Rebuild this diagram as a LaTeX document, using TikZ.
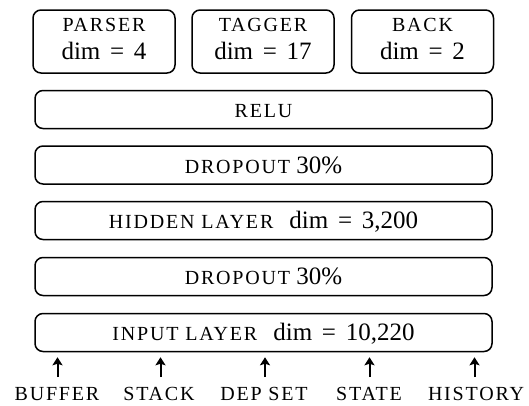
\documentclass[tikz,border=0pt]{standalone}
\usepackage{fontspec}
\setmainfont{Liberation Serif}
\newfontfamily\capsfont[LetterSpace=9]{Liberation Serif}
\usetikzlibrary{arrows.meta}
\newcommand{\mainsz}{\fontsize{25}{30}\selectfont}
\newcommand{\sck}[1]{{\capsfont\fontsize{20}{24}\selectfont #1}}
\newcommand{\dimeq}[1]{dim\hspace{0.39em}=\hspace{0.39em}#1}
\begin{document}
\begin{tikzpicture}[x=1pt,y=-1pt,
  box/.style={draw, line width=1.5pt, rounded corners=8pt, inner sep=0pt, font=\mainsz},
  layer/.style={box, minimum width=457pt, minimum height=38pt, text height=16pt, text depth=0pt},
  headbox/.style={box, minimum width=142pt, minimum height=63pt},
  ttl/.style={anchor=base, inner sep=0pt, font=\mainsz},
  inlabel/.style={anchor=base, inner sep=0pt, font=\mainsz},
  feed/.style={-{Stealth[length=8pt,width=10pt,inset=1.5pt]}, line width=2pt, shorten >=5pt}
]
\useasboundingbox (0,0) rectangle (529,405);
% heads
\node[headbox] (parser) at (104,41.5) {};
\node[headbox] (tagger) at (263,41.5) {};
\node[headbox] (back) at (422.5,41.5) {};
\node[ttl] (parsert) at (104,31.7) {\sck{PARSER}};
\node[ttl] (parserd) at (104,59) {\dimeq{4}};
\node[ttl] (taggert) at (263,31.7) {\sck{TAGGER}};
\node[ttl] (taggerd) at (263,59) {\dimeq{17}};
\node[ttl] (backt) at (422.5,31.7) {\sck{BACK}};
\node[ttl] (backd) at (422.5,59) {\dimeq{2}};
% layers
\node[layer] (relu) at (263.5,109.5) {\sck{RELU}};
\node[layer] (drop1) at (263.5,165) {\sck{DROPOUT} 30\%};
\node[layer] (hidden) at (263.5,220.5) {\sck{HIDDEN LAYER}\hspace{16pt}\dimeq{3,200}};
\node[layer] (drop2) at (263.5,276.5) {\sck{DROPOUT} 30\%};
\node[layer] (input) at (263.5,332.5) {\sck{INPUT LAYER}\hspace{16pt}\dimeq{10,220}};
% inputs
\node[inlabel] (buffer) at (57,400) {\sck{BUFFER}};
\node[inlabel] (stack) at (159,400) {\sck{STACK}};
\node[inlabel] (depset) at (264,400) {\sck{DEP SET}};
\node[inlabel] (state) at (369,400) {\sck{STATE}};
\node[inlabel] (history) at (476,400) {\sck{HISTORY}};
\coordinate (a1) at (57.5,377);
\coordinate (a2) at (160.5,377);
\coordinate (a3) at (265,377);
\coordinate (a4) at (369.5,377);
\coordinate (a5) at (474.5,377);
\foreach \c in {a1,a2,a3,a4,a5}{
  \draw[feed] (\c) -- (\c |- input.south);
}
\end{tikzpicture}
\end{document}
